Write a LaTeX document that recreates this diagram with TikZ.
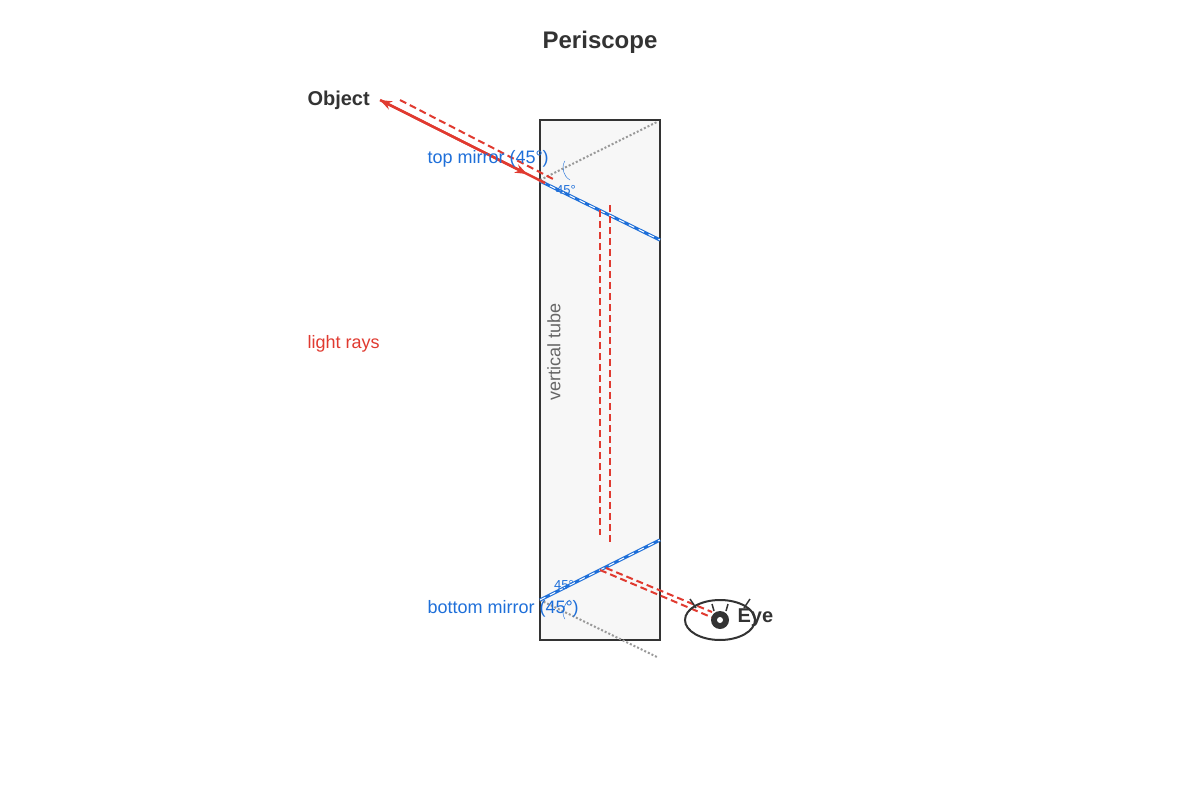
\documentclass[tikz,border=0pt]{standalone}
\usepackage{fontspec}
\setmainfont{Liberation Sans}
\usetikzlibrary{arrows.meta, shapes.geometric}
\definecolor{tubegray}{HTML}{333333}
\definecolor{mirrorblue}{HTML}{1E6FD9}
\definecolor{rayred}{HTML}{E03A30}
\tikzset{
  mirror/.style={line width=3.2pt, draw=mirrorblue, postaction={draw=white, line width=1pt, dash pattern=on 6pt off 5pt}},
  ray/.style={thick, draw=rayred, dash pattern=on 7pt off 4pt},
  lbl/.style={font=\fontsize{18}{20}\selectfont, anchor=west}
}
\begin{document}
\begin{tikzpicture}[x=1pt, y=-1pt]
  \useasboundingbox (0,0) rectangle (1200,800);
  \node (Title) [font=\bfseries\fontsize{24}{26}\selectfont, text=tubegray] at (600,42) {Periscope};
  % tube
  \node (Tube) [draw=tubegray, line width=2.5pt, fill=black!3, minimum width=120pt, minimum height=520pt, inner sep=0pt] at (600,380) {};
  \node (TubeText) [rotate=90, text=black!60, font=\fontsize{18}{20}\selectfont] at (554,352) {vertical tube};
  \draw [black!40, line width=2pt, dash pattern=on 2pt off 2pt] (540,180) -- (657,122);
  \draw [black!40, line width=2pt, dash pattern=on 2pt off 2pt] (540,600) -- (657,657);
  % mirrors
  \coordinate (TopL) at (540,181); \coordinate (TopR) at (660,240);
  \coordinate (BotL) at (540,600); \coordinate (BotR) at (660,540);
  \draw [mirror] (TopL) -- (TopR);
  \draw [mirror] (BotL) -- (BotR);
  \draw [mirrorblue] (570,180) arc (-60:30:-14) ;
  \node [text=mirrorblue, font=\fontsize{13}{14}\selectfont] at (566,190) {45°};
  \draw [mirrorblue] (570,600) arc (60:-30:-14);
  \node [text=mirrorblue, font=\fontsize{13}{14}\selectfont] at (564,585) {45°};
  % rays
  \coordinate (ObjPt) at (380,100);
  \coordinate (Hit) at (545,183);
  \draw [rayred, line width=2.5pt, -{Stealth[length=12pt]}] (Hit) -- (ObjPt);
  \draw [rayred, line width=2.5pt, -{Stealth[length=12pt]}] (ObjPt) -- (527,174);
  \draw [ray, line width=2pt] (400,100) -- (555,180);
  \draw [ray, line width=2pt] (600,210) -- (600,535);
  \draw [ray, line width=2pt] (610,205) -- (610,545);
  \draw [ray, line width=2pt] (600,570) -- (718,620);
  \draw [ray, line width=2pt] (606,568) -- (712,612);
  % eye
  \node (Eye) [draw=tubegray, line width=2pt, ellipse, minimum width=70pt, minimum height=40pt, inner sep=0pt] at (720,620) {};
  \fill [tubegray] (720,620) circle (9pt);
  \fill [white] (720,620) circle (3pt);
  \draw [tubegray, line width=1.5pt] (690,599) -- (696,608) (712,604) -- (714,611) (728,604) -- (726,611) (750,599) -- (744,608);
  % labels
  \node (Object) [lbl, font=\bfseries\fontsize{20}{22}\selectfont, text=tubegray] at (304,100) {Object};
  \node (EyeText) [lbl, font=\bfseries\fontsize{20}{22}\selectfont, text=tubegray] at (734,618) {Eye};
  \node (TopText) [lbl, text=mirrorblue] at (424,159) {top mirror (45°)};
  \node (BotText) [lbl, text=mirrorblue] at (424,609) {bottom mirror (45°)};
  \node (Rays) [lbl, text=rayred] at (304,344) {light rays};
\end{tikzpicture}
\end{document}
